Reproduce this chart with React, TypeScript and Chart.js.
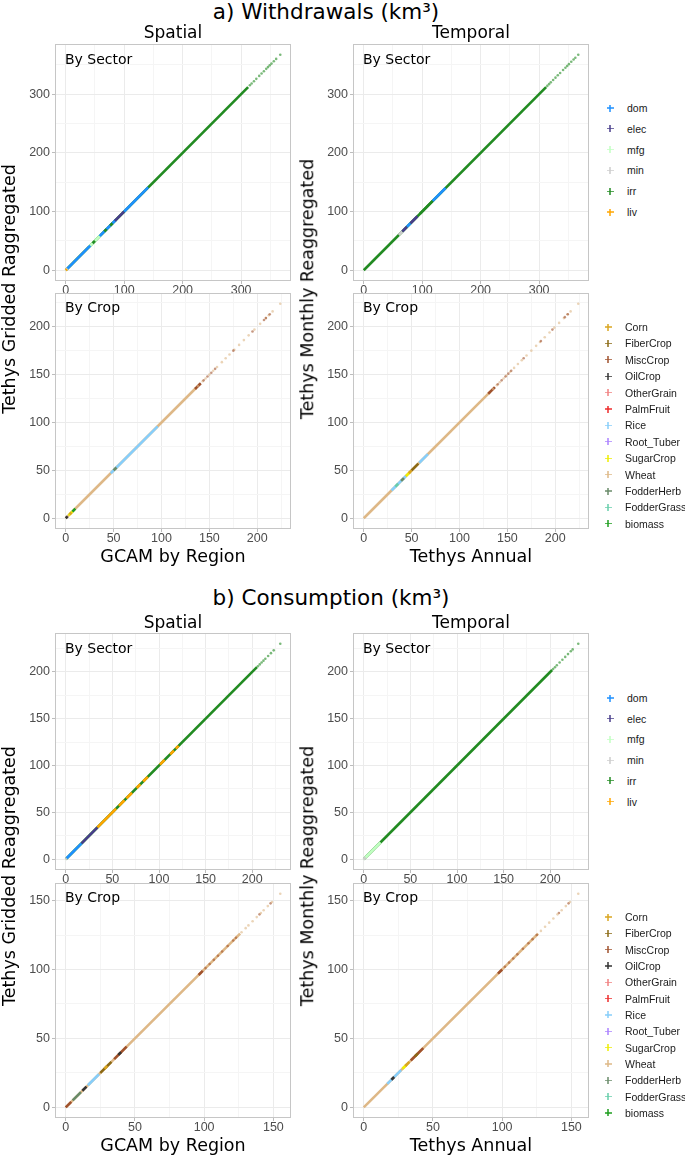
import React, { useEffect, useRef } from "react";
import { Chart, registerables } from "chart.js";
Chart.register(...registerables);

// ---------------- DATA ----------------
const sectorNames = ["dom", "elec", "mfg", "min", "irr", "liv"];
const sectorColors = ["#1E90FF", "#483D8B", "#C1FFC1", "#CCCCCC", "#228B22", "#FFA500"];
const cropNames = ["Corn", "FiberCrop", "MiscCrop", "OilCrop", "OtherGrain", "PalmFruit", "Rice", "Root_Tuber", "SugarCrop", "Wheat", "FodderHerb", "FodderGrass", "biomass"];
const cropColors = ["#DAA520", "#8B6914", "#A0522D", "#333333", "#F08080", "#EE2C2C", "#87CEFA", "#AB82FF", "#EEEE00", "#DEB887", "#698B69", "#66CDAA", "#1E9E1E"];

const withdrawalSectorTicks = [0, 100, 200, 300];
const withdrawalCropTicks = [0, 50, 100, 150, 200];
const consumptionSectorTicks = [0, 50, 100, 150, 200];
const consumptionCropTicks = [0, 50, 100, 150];

const withdrawalSectorMax = 367;
const withdrawalCropMax = 224;
const consumptionSectorMax = 230;
const consumptionCropMax = 155;

// dense runs of points along the 1:1 line: [series, from, to]
const withdrawalSpatialSectorRuns: [string, number, number][] = [
  ["irr", 0, 312], ["mfg", 40, 60], ["dom", 2, 42], ["dom", 58, 86], ["irr", 46, 50],
  ["irr", 66, 70], ["irr", 76, 80], ["elec", 84, 100], ["dom", 100, 141], ["min", 0, 3], ["liv", 0, 2],
];
const withdrawalSpatialSectorDots: [string, number][] = [
  ["irr", 315], ["irr", 318], ["irr", 322], ["irr", 326], ["irr", 331], ["irr", 335], ["irr", 339],
  ["irr", 343], ["irr", 346], ["irr", 349], ["irr", 352], ["irr", 356], ["irr", 360], ["irr", 367],
];
const withdrawalTemporalSectorRuns: [string, number, number][] = [
  ["irr", 0, 312], ["min", 60, 66], ["elec", 66, 74], ["dom", 74, 80], ["elec", 80, 92],
  ["irr", 96, 118], ["dom", 118, 140],
];
const withdrawalTemporalSectorDots: [string, number][] = [
  ["irr", 314], ["irr", 317], ["irr", 320], ["irr", 324], ["irr", 328], ["irr", 332], ["irr", 336],
  ["irr", 341], ["irr", 345], ["irr", 348], ["irr", 351], ["irr", 355], ["irr", 359], ["irr", 362], ["irr", 367],
];
const withdrawalSpatialCropRuns: [string, number, number][] = [
  ["Wheat", 0, 136], ["OilCrop", 0, 2], ["SugarCrop", 3, 7], ["Corn", 4, 6], ["biomass", 7, 10],
  ["Rice", 47, 96], ["FodderHerb", 50, 53], ["MiscCrop", 135, 141],
];
const withdrawalSpatialCropDots: [string, number][] = [
  ["Wheat", 138], ["Wheat", 143], ["Wheat", 146], ["Wheat", 150], ["Wheat", 154], ["Wheat", 158],
  ["Wheat", 163], ["Wheat", 167], ["Wheat", 171], ["Wheat", 176], ["Wheat", 181], ["Wheat", 186],
  ["Wheat", 191], ["Wheat", 197], ["Wheat", 203], ["Wheat", 209], ["Wheat", 212], ["Wheat", 216], ["Wheat", 224],
  ["MiscCrop", 140], ["MiscCrop", 144], ["MiscCrop", 148], ["MiscCrop", 152], ["MiscCrop", 156],
  ["MiscCrop", 175], ["MiscCrop", 195], ["MiscCrop", 207], ["MiscCrop", 209], ["MiscCrop", 213],
];
const withdrawalTemporalCropRuns: [string, number, number][] = [
  ["Wheat", 0, 132], ["Rice", 29, 44], ["FodderGrass", 33, 36], ["FodderHerb", 39, 42], ["SugarCrop", 44, 48],
  ["Corn", 47, 50], ["FiberCrop", 50, 57], ["Rice", 58, 67], ["MiscCrop", 130, 137],
];
const withdrawalTemporalCropDots: [string, number][] = [
  ["Wheat", 135], ["Wheat", 139], ["Wheat", 142], ["Wheat", 146], ["Wheat", 149], ["Wheat", 153],
  ["Wheat", 157], ["Wheat", 161], ["Wheat", 165], ["Wheat", 170], ["Wheat", 175], ["Wheat", 180],
  ["Wheat", 184], ["Wheat", 189], ["Wheat", 194], ["Wheat", 199], ["Wheat", 204], ["Wheat", 209],
  ["Wheat", 213], ["Wheat", 216], ["Wheat", 224],
  ["MiscCrop", 140], ["MiscCrop", 144], ["MiscCrop", 148], ["MiscCrop", 151], ["MiscCrop", 154],
  ["MiscCrop", 167], ["MiscCrop", 185], ["MiscCrop", 197], ["MiscCrop", 210], ["MiscCrop", 213],
];
const consumptionSpatialSectorRuns: [string, number, number][] = [
  ["irr", 0, 205], ["min", 0, 1.5], ["dom", 1, 17], ["elec", 17, 34], ["liv", 34, 54], ["liv", 57, 63],
  ["liv", 65, 71], ["liv", 76, 80], ["liv", 83, 88], ["liv", 101, 106], ["liv", 112, 116], ["liv", 118, 121],
];
const consumptionSpatialSectorDots: [string, number][] = [
  ["irr", 206], ["irr", 208], ["irr", 210], ["irr", 212], ["irr", 214], ["irr", 217], ["irr", 220], ["irr", 223], ["irr", 230],
];
const consumptionTemporalSectorRuns: [string, number, number][] = [
  ["irr", 0, 202], ["mfg", 0, 18], ["min", 0, 2],
];
const consumptionTemporalSectorDots: [string, number][] = [
  ["irr", 203], ["irr", 205], ["irr", 207], ["irr", 210], ["irr", 213], ["irr", 216], ["irr", 219],
  ["irr", 222], ["irr", 224], ["irr", 230],
];
const consumptionSpatialCropRuns: [string, number, number][] = [
  ["Wheat", 0, 126], ["MiscCrop", 0, 4], ["FodderHerb", 5, 11], ["OilCrop", 12, 15], ["Rice", 16, 24],
  ["FiberCrop", 25, 33], ["Corn", 28, 30], ["MiscCrop", 35, 44], ["OilCrop", 38, 40], ["MiscCrop", 96, 99],
];
const consumptionSpatialCropDots: [string, number][] = [
  ["MiscCrop", 101], ["MiscCrop", 104], ["MiscCrop", 107], ["MiscCrop", 110], ["MiscCrop", 113],
  ["MiscCrop", 117], ["MiscCrop", 121], ["MiscCrop", 123], ["MiscCrop", 140], ["MiscCrop", 148],
  ["Wheat", 127], ["Wheat", 130], ["Wheat", 132], ["Wheat", 135], ["Wheat", 138], ["Wheat", 141],
  ["Wheat", 143], ["Wheat", 146], ["Wheat", 149], ["Wheat", 155],
];
const consumptionTemporalCropRuns: [string, number, number][] = [
  ["Wheat", 0, 126], ["Rice", 17, 27], ["OilCrop", 20, 22], ["SugarCrop", 28, 31], ["Corn", 30, 33],
  ["MiscCrop", 34, 43], ["FiberCrop", 37, 39], ["MiscCrop", 97, 100],
];
const consumptionTemporalCropDots: [string, number][] = [
  ["MiscCrop", 102], ["MiscCrop", 105], ["MiscCrop", 108], ["MiscCrop", 111], ["MiscCrop", 115],
  ["MiscCrop", 119], ["MiscCrop", 122], ["MiscCrop", 125], ["MiscCrop", 141], ["MiscCrop", 148],
  ["Wheat", 128], ["Wheat", 131], ["Wheat", 134], ["Wheat", 137], ["Wheat", 140], ["Wheat", 143],
  ["Wheat", 146], ["Wheat", 149], ["Wheat", 155],
];

// ---------------- LAYOUT ----------------
const Y_AXIS_W = 42;
const X_AXIS_H = 18;
const PAD_TOP = 12;
const PAD_RIGHT = 8;

type PanelDef = {
  box: [number, number, number, number];
  runs: [string, number, number][];
  dots: [string, number][];
  names: string[];
  colors: string[];
  max: number;
  ticks: number[];
};

const panels: PanelDef[] = [
  { box: [55, 44, 236, 237], runs: withdrawalSpatialSectorRuns, dots: withdrawalSpatialSectorDots, names: sectorNames, colors: sectorColors, max: withdrawalSectorMax, ticks: withdrawalSectorTicks },
  { box: [353, 44, 236, 237], runs: withdrawalTemporalSectorRuns, dots: withdrawalTemporalSectorDots, names: sectorNames, colors: sectorColors, max: withdrawalSectorMax, ticks: withdrawalSectorTicks },
  { box: [55, 293, 236, 236], runs: withdrawalSpatialCropRuns, dots: withdrawalSpatialCropDots, names: cropNames, colors: cropColors, max: withdrawalCropMax, ticks: withdrawalCropTicks },
  { box: [353, 293, 236, 236], runs: withdrawalTemporalCropRuns, dots: withdrawalTemporalCropDots, names: cropNames, colors: cropColors, max: withdrawalCropMax, ticks: withdrawalCropTicks },
  { box: [55, 633, 236, 237], runs: consumptionSpatialSectorRuns, dots: consumptionSpatialSectorDots, names: sectorNames, colors: sectorColors, max: consumptionSectorMax, ticks: consumptionSectorTicks },
  { box: [353, 633, 236, 237], runs: consumptionTemporalSectorRuns, dots: consumptionTemporalSectorDots, names: sectorNames, colors: sectorColors, max: consumptionSectorMax, ticks: consumptionSectorTicks },
  { box: [55, 883, 236, 235], runs: consumptionSpatialCropRuns, dots: consumptionSpatialCropDots, names: cropNames, colors: cropColors, max: consumptionCropMax, ticks: consumptionCropTicks },
  { box: [353, 883, 236, 235], runs: consumptionTemporalCropRuns, dots: consumptionTemporalCropDots, names: cropNames, colors: cropColors, max: consumptionCropMax, ticks: consumptionCropTicks },
];

function rgba(hex: string, a: number) {
  const n = parseInt(hex.slice(1), 16);
  return `rgba(${(n >> 16) & 255},${(n >> 8) & 255},${n & 255},${a})`;
}

const borderPlugin = {
  id: "panelBorder",
  afterDraw(chart: any) {
    const { ctx, chartArea: a } = chart;
    ctx.save();
    ctx.strokeStyle = "#c6c6c6";
    ctx.lineWidth = 1;
    ctx.strokeRect(a.left + 0.5, a.top + 0.5, a.right - a.left - 1, a.bottom - a.top - 1);
    ctx.restore();
  },
};

function Panel({ p }: { p: PanelDef }) {
  const ref = useRef<HTMLCanvasElement>(null);
  useEffect(() => {
    const colorOf = (n: string) => p.colors[p.names.indexOf(n)];
    const ds: any[] = [];
    p.runs.forEach(([n, a, b]) => {
      ds.push({
        data: [{ x: a, y: a }, { x: b, y: b }],
        showLine: true,
        borderColor: colorOf(n),
        borderWidth: 2.6,
        pointRadius: 0,
        fill: false,
      });
    });
    const groups: Record<string, number[]> = {};
    p.dots.forEach(([n, v]) => {
      (groups[n] = groups[n] || []).push(v);
    });
    Object.keys(groups).forEach((n) => {
      ds.push({
        data: groups[n].map((v) => ({ x: v, y: v })),
        showLine: false,
        backgroundColor: rgba(colorOf(n), 0.6),
        borderWidth: 0,
        pointRadius: 1.3,
        pointStyle: "circle",
      });
    });
    ds.reverse();

    const lo = -p.max * 0.05;
    const hi = p.max * 1.05;
    const step = p.ticks[1] - p.ticks[0];
    const all: number[] = [];
    p.ticks.forEach((t) => all.push(t));
    p.ticks.forEach((t) => {
      if (t + step / 2 < hi) all.push(t + step / 2);
    });
    all.sort((a, b) => a - b);
    const isMajor = (v: number) => p.ticks.includes(v);

    const axis = (which: "x" | "y") => ({
      type: "linear",
      min: lo,
      max: hi,
      afterBuildTicks: (s: any) => {
        s.ticks = all.map((v) => ({ value: v }));
      },
      afterFit: (s: any) => {
        if (which === "x") s.height = X_AXIS_H;
        else s.width = Y_AXIS_W;
      },
      border: { display: false },
      grid: {
        color: (c: any) => (c.tick && isMajor(c.tick.value) ? "#ebebeb" : "#f5f5f5"),
        lineWidth: 1,
        drawTicks: true,
        tickLength: 3,
        tickColor: (c: any) => (c.tick && isMajor(c.tick.value) ? "#bdbdbd" : "rgba(0,0,0,0)"),
      },
      ticks: {
        autoSkip: false,
        maxRotation: 0,
        padding: which === "x" ? -1 : 2,
        color: "#4d4d4d",
        font: { family: "'Liberation Sans', Arial, sans-serif", size: 12.5 },
        callback: (v: any) => (isMajor(v) ? String(v) : ""),
      },
    });

    const chart = new Chart(ref.current as HTMLCanvasElement, {
      type: "scatter",
      data: { datasets: ds },
      options: {
        animation: false,
        responsive: false,
        events: [],
        layout: { padding: { top: PAD_TOP, right: PAD_RIGHT, left: 0, bottom: 0 } },
        plugins: { legend: { display: false }, tooltip: { enabled: false } },
        scales: { x: axis("x") as any, y: axis("y") as any },
      },
      plugins: [borderPlugin],
    });
    return () => chart.destroy();
  }, [p]);

  const [bx, by, bw, bh] = p.box;
  const w = Y_AXIS_W + bw + PAD_RIGHT;
  const h = PAD_TOP + bh + X_AXIS_H;
  return (
    <canvas
      ref={ref}
      width={w}
      height={h}
      style={{ position: "absolute", left: bx - Y_AXIS_W, top: by - PAD_TOP, width: w, height: h, display: "block" }}
    />
  );
}

const big = "'DejaVu Sans', Verdana, sans-serif";
const small = "'Liberation Sans', Arial, sans-serif";

function Text({ x, y, size, children, rotate = false, align = "center" }: any) {
  const tx = align === "center" ? "-50%" : "0";
  return (
    <div
      style={{
        position: "absolute",
        left: x,
        top: y,
        fontFamily: big,
        fontSize: size,
        lineHeight: 1,
        whiteSpace: "nowrap",
        color: "#000",
        transform: `translate(${tx}, -50%)${rotate ? " rotate(-90deg)" : ""}`,
        transformOrigin: "center center",
      }}
    >
      {children}
    </div>
  );
}

function Legend({ x, y, step, names, colors }: any) {
  return (
    <>
      {names.map((n: string, i: number) => {
        const cy = y + i * step;
        const c = rgba(colors[i], 0.75);
        return (
          <React.Fragment key={n}>
            <div style={{ position: "absolute", left: x - 3.5, top: cy - 0.6, width: 7, height: 1.2, background: c }} />
            <div style={{ position: "absolute", left: x - 0.6, top: cy - 3.5, width: 1.2, height: 7, background: c }} />
            <div
              style={{
                position: "absolute",
                left: x + 17,
                top: cy,
                transform: "translateY(-50%)",
                fontFamily: small,
                fontSize: 10.5,
                lineHeight: 1,
                color: "#1a1a1a",
                whiteSpace: "nowrap",
              }}
            >
              {n}
            </div>
          </React.Fragment>
        );
      })}
    </>
  );
}

export default function App() {
  return (
    <div style={{ position: "absolute", left: 0, top: 0, width: 685, height: 1156, background: "#fff", overflow: "hidden" }}>
      {panels.map((p, i) => (
        <Panel key={i} p={p} />
      ))}

      <Text x={326} y={12} size={21.5}>a) Withdrawals (km³)</Text>
      <Text x={173} y={32} size={17}>Spatial</Text>
      <Text x={471} y={32} size={17}>Temporal</Text>
      <Text x={65} y={59} size={14} align="left">By Sector</Text>
      <Text x={363} y={59} size={14} align="left">By Sector</Text>
      <Text x={65} y={307} size={14} align="left">By Crop</Text>
      <Text x={363} y={307} size={14} align="left">By Crop</Text>
      <Text x={173} y={557} size={17.5}>GCAM by Region</Text>
      <Text x={471} y={557} size={17.5}>Tethys Annual</Text>
      <Text x={10} y={289} size={17.5} rotate>Tethys Gridded Raggregated</Text>
      <Text x={308} y={289} size={17.5} rotate>Tethys Monthly Reaggregated</Text>

      <Text x={331} y={598} size={21.5}>b) Consumption (km³)</Text>
      <Text x={173} y={622} size={17}>Spatial</Text>
      <Text x={471} y={622} size={17}>Temporal</Text>
      <Text x={65} y={648} size={14} align="left">By Sector</Text>
      <Text x={363} y={648} size={14} align="left">By Sector</Text>
      <Text x={65} y={897} size={14} align="left">By Crop</Text>
      <Text x={363} y={897} size={14} align="left">By Crop</Text>
      <Text x={173} y={1146} size={17.5}>GCAM by Region</Text>
      <Text x={471} y={1146} size={17.5}>Tethys Annual</Text>
      <Text x={10} y={876} size={17.5} rotate>Tethys Gridded Reaggregated</Text>
      <Text x={308} y={876} size={17.5} rotate>Tethys Monthly Reaggregated</Text>

      <Legend x={610} y={108} step={20.8} names={sectorNames} colors={sectorColors} />
      <Legend x={608} y={327} step={16.4} names={cropNames} colors={cropColors} />
      <Legend x={610} y={698} step={20.7} names={sectorNames} colors={sectorColors} />
      <Legend x={608} y={917} step={16.33} names={cropNames} colors={cropColors} />
    </div>
  );
}
